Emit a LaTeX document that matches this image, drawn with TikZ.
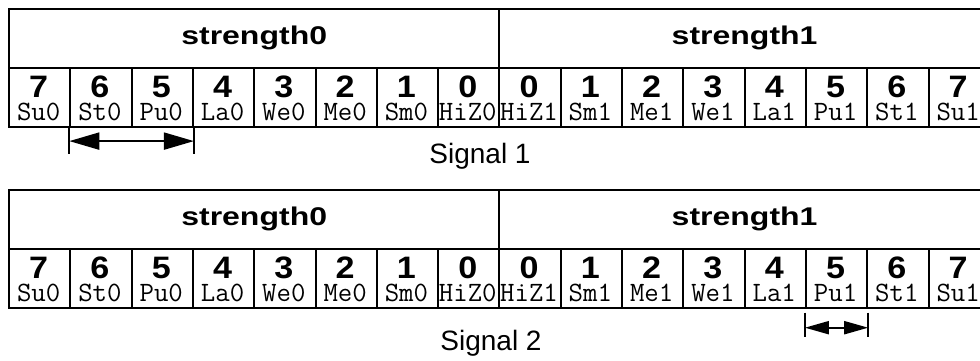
\documentclass[tikz,border=0pt]{standalone}
\usepackage{fontspec}
\setmainfont{Liberation Sans}
\usepackage{graphicx}
\usetikzlibrary{arrows.meta,positioning}

\newcommand{\widetxt}[2]{\scalebox{#1}[1]{#2}}

\begin{document}
\begin{tikzpicture}[x=0.5pt, y=-0.5pt, line width=1pt, >={Triangle[length=15pt,width=8.5pt]},
  head/.style={draw, anchor=north west, minimum width=245.2pt, minimum height=29.25pt, inner sep=0pt,
    font=\fontsize{12.8}{15}\selectfont\bfseries},
  cell/.style={draw, anchor=north west, minimum width=30.65pt, minimum height=29.5pt, inner sep=0pt},
  num/.style={anchor=base, inner sep=0pt, font=\fontsize{15.5}{18}\selectfont\bfseries},
  lvl/.style={anchor=base, inner sep=0pt, font=\fontsize{14}{16}\selectfont\ttfamily},
  sig/.style={anchor=base, inner sep=0pt, font=\fontsize{14}{17}\selectfont},
  smallarr/.style={{Triangle[length=12pt,width=6.5pt]}-{Triangle[length=12pt,width=6.5pt]}}]

\clip (0,0) rectangle (980,360);

% --- Two strength tables, one per signal ---
\foreach \s in {1,2} {
  \begin{scope}[shift={(0,{(\s-1)*181})}]
    \node[head] (s\s h0) at (8,8) {\widetxt{1.25}{strength0}};
    \node[head] (s\s h1) at (498.4,8) {\widetxt{1.25}{strength1}};
    \foreach \i/\n/\t in {0/7/Su0, 1/6/St0, 2/5/Pu0, 3/4/La0, 4/3/We0, 5/2/Me0, 6/1/Sm0, 7/0/HiZ0,
                          8/0/HiZ1, 9/1/Sm1, 10/2/Me1, 11/3/We1, 12/4/La1, 13/5/Pu1, 14/6/St1, 15/7/Su1} {
      \node[cell] (s\s c\i) at (8+\i*61.3,66.5) {};
      \node[num] (s\s n\i) at (38.65+\i*61.3,97) {\widetxt{1.1}{\n}};
      \node[lvl] (s\s l\i) at (38.65+\i*61.3,120) {\t};
    }
  \end{scope}
}

% --- Signal 1: range St0 to Pu0 ---
\coordinate[below=13pt of s1c1.south west] (r1a);
\coordinate[below=13pt of s1c2.south east] (r1b);
\coordinate[below=6.8pt of s1c1.south west] (r1l);
\coordinate[below=6.8pt of s1c2.south east] (r1r);
\draw (s1c1.south west) -- (r1a);
\draw (s1c2.south east) -- (r1b);
\draw[<->] (r1l) -- (r1r);
\node[sig] (sig1) at (480,163) {Signal 1};

% --- Signal 2: range Pu1 only ---
\coordinate[below=2pt of s2c13.south west] (t2a);
\coordinate[below=14pt of s2c13.south west] (t2b);
\coordinate[below=2pt of s2c13.south east] (t2c);
\coordinate[below=14pt of s2c13.south east] (t2d);
\coordinate[below=9.6pt of s2c13.south west] (r2l);
\coordinate[below=9.6pt of s2c13.south east] (r2r);
\draw (t2a) -- (t2b);
\draw (t2c) -- (t2d);
\draw[smallarr] (r2l) -- (r2r);
\node[sig] (sig2) at (491,350) {Signal 2};

\end{tikzpicture}
\end{document}
